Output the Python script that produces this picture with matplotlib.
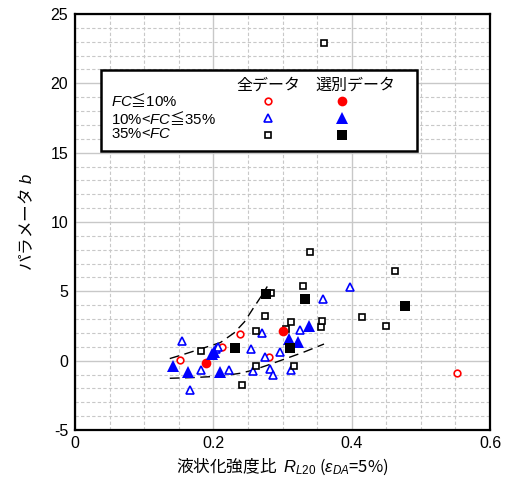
import matplotlib
matplotlib.use("Agg")
import matplotlib.pyplot as plt
from matplotlib.patches import Rectangle
from matplotlib.ticker import MultipleLocator, FixedLocator

# ---- R_L20 vs. parameter b ----
# all data (open markers)
all_fc10_x = [0.152, 0.213, 0.239, 0.280, 0.553]
all_fc10_y = [0.05, 0.96, 1.95, 0.25, -0.91]

all_fc35_x = [0.154, 0.182, 0.166, 0.204, 0.207, 0.222, 0.254, 0.271, 0.274,
              0.258, 0.282, 0.286, 0.296, 0.313, 0.325, 0.359, 0.398]
all_fc35_y = [1.40, -0.64, -2.11, 0.82, 0.96, -0.67, 0.82, 2.00, 0.29,
              -0.76, -0.62, -1.03, 0.65, -0.67, 2.21, 4.46, 5.34]

all_fc100_x = [0.182, 0.241, 0.262, 0.262, 0.275, 0.283, 0.305, 0.313, 0.316,
               0.330, 0.340, 0.355, 0.357, 0.360, 0.415, 0.449, 0.463]
all_fc100_y = [0.72, -1.75, -0.38, 2.14, 3.20, 4.88, 2.26, 2.79, -0.38,
               5.39, 7.86, 2.43, 2.89, 22.9, 3.13, 2.50, 6.47]

# selected data (filled markers)
sel_fc10_x = [0.189, 0.301]
sel_fc10_y = [-0.14, 2.14]

sel_fc35_x = [0.142, 0.164, 0.198, 0.201, 0.210, 0.310, 0.323, 0.338]
sel_fc35_y = [-0.38, -0.79, 0.48, 0.65, -0.79, 1.54, 1.37, 2.50]

sel_fc100_x = [0.232, 0.276, 0.311, 0.332, 0.477]
sel_fc100_y = [0.94, 4.83, 0.91, 4.43, 3.92]

# upper / lower bounds of the selected data (dashed)
upper_x = [0.137, 0.160, 0.185, 0.210, 0.230, 0.245, 0.258, 0.270, 0.278]
upper_y = [0.15, 0.50, 0.90, 1.30, 2.00, 2.80, 3.80, 4.70, 5.35]
lower_x = [0.137, 0.170, 0.210, 0.240, 0.258, 0.280, 0.306, 0.330, 0.360]
lower_y = [-1.27, -1.22, -1.12, -0.90, -0.67, -0.30, 0.17, 0.60, 1.20]

x_ticks = [0, 0.2, 0.4, 0.6]
x_tick_labels = ["0", "0.2", "0.4", "0.6"]
y_ticks = [-5, 0, 5, 10, 15, 20, 25]
y_tick_labels = ["-5", "0", "5", "10", "15", "20", "25"]

header_all = "全データ"
header_sel = "選別データ"
row_labels = [r"$FC$≦$\mathrm{10\%}$",
              r"$\mathrm{10\%}$<$FC$≦$\mathrm{35\%}$",
              r"$\mathrm{35\%}$<$FC$"]

plt.rcParams["axes.unicode_minus"] = False
plt.rcParams["mathtext.fontset"] = "custom"
plt.rcParams["mathtext.rm"] = "Liberation Sans"
plt.rcParams["mathtext.it"] = "Liberation Sans:italic"
plt.rcParams["mathtext.bf"] = "Liberation Sans:bold"
plt.rcParams["font.family"] = ["Liberation Sans", "Noto Sans CJK JP", "DejaVu Sans"]

W, H = 508, 479
fig = plt.figure(figsize=(W / 100, H / 100), dpi=100)


def fx(px):
    return px / W


def fy(py):
    return 1 - py / H


ax = fig.add_axes([fx(75), fy(430), fx(490) - fx(75), fy(14) - fy(430)])
ax.set_xlim(0, 0.6)
ax.set_ylim(-5, 25)

ax.xaxis.set_major_locator(FixedLocator(x_ticks))
ax.yaxis.set_major_locator(FixedLocator(y_ticks))
ax.set_xticklabels(x_tick_labels)
ax.set_yticklabels(y_tick_labels)
ax.xaxis.set_minor_locator(MultipleLocator(0.05))
ax.yaxis.set_minor_locator(MultipleLocator(1))
ax.tick_params(which="both", length=0)
ax.tick_params(axis="x", pad=4, labelsize=11.5)
ax.tick_params(axis="y", pad=5, labelsize=11.5)

ax.grid(which="major", color="#c8c8c8", linewidth=1.0, linestyle="-", zorder=0)
ax.grid(which="minor", color="#c8c8c8", linewidth=0.8, linestyle=(0, (3, 2)), zorder=0)
ax.set_axisbelow(True)
for s in ax.spines.values():
    s.set_linewidth(1.6)
    s.set_color("black")

# bound curves
ax.plot(upper_x, upper_y, color="black", lw=1.0, linestyle=(0, (7, 4)), zorder=2)
ax.plot(lower_x, lower_y, color="black", lw=1.0, linestyle=(0, (7, 4)), zorder=2)

open_kw = dict(linestyle="none", markerfacecolor="white", markeredgewidth=1.2, zorder=3)
ax.plot(all_fc10_x, all_fc10_y, marker="o", markersize=4.8, markeredgecolor="red", **open_kw)
ax.plot(all_fc35_x, all_fc35_y, marker="^", markersize=5.6, markeredgecolor="blue", **open_kw)
ax.plot(all_fc100_x, all_fc100_y, marker="s", markersize=4.6, markeredgecolor="black", **open_kw)

ax.plot(sel_fc10_x, sel_fc10_y, linestyle="none", marker="o", markersize=7,
        color="red", markeredgewidth=0, zorder=4)
ax.plot(sel_fc35_x, sel_fc35_y, linestyle="none", marker="^", markersize=8,
        color="blue", markeredgewidth=0, zorder=4)
ax.plot(sel_fc100_x, sel_fc100_y, linestyle="none", marker="s", markersize=6.5,
        color="black", markeredgewidth=0, zorder=4)

# legend box
fig.add_artist(Rectangle((fx(101), fy(151)), fx(417) - fx(101), fy(70) - fy(151),
                         transform=fig.transFigure, facecolor="white",
                         edgecolor="black", linewidth=1.8, zorder=10))
cjk = ["Noto Sans CJK JP"]
fig.text(fx(268), fy(85), header_all, ha="center", va="center", fontsize=11.5,
         family=cjk, zorder=11)
fig.text(fx(355), fy(85), header_sel, ha="center", va="center", fontsize=11.5,
         family=cjk, zorder=11)
row_y = [100.5, 118, 134.5]
for lab, py in zip(row_labels, row_y):
    fig.text(fx(111), fy(py), lab, ha="left", va="center", fontsize=10.8,
             family=cjk, zorder=11)

leg_open = [("o", "red", 4.8), ("^", "blue", 5.6), ("s", "black", 4.6)]
leg_fill = [("o", "red", 7), ("^", "blue", 8), ("s", "black", 6.5)]
for (m, c, ms), py in zip(leg_open, row_y):
    fig.add_artist(plt.Line2D([fx(268)], [fy(py)], transform=fig.transFigure,
                              marker=m, markersize=ms, markerfacecolor="white",
                              markeredgecolor=c, markeredgewidth=1.2,
                              linestyle="none", zorder=11))
for (m, c, ms), py in zip(leg_fill, row_y):
    fig.add_artist(plt.Line2D([fx(342)], [fy(py)], transform=fig.transFigure,
                              marker=m, markersize=ms, color=c, markeredgewidth=0,
                              linestyle="none", zorder=11))

# axis titles
fig.text(fx(282), fy(466), r"液状化強度比  $R_{L20}$ ($\varepsilon_{DA}$=5%)",
         ha="center", va="center", fontsize=12, family=cjk)
fig.text(fx(27), fy(222), r"パラメータ $b$", ha="center", va="center",
         rotation=90, fontsize=12, family=cjk)

fig.savefig("out.png", dpi=100)
